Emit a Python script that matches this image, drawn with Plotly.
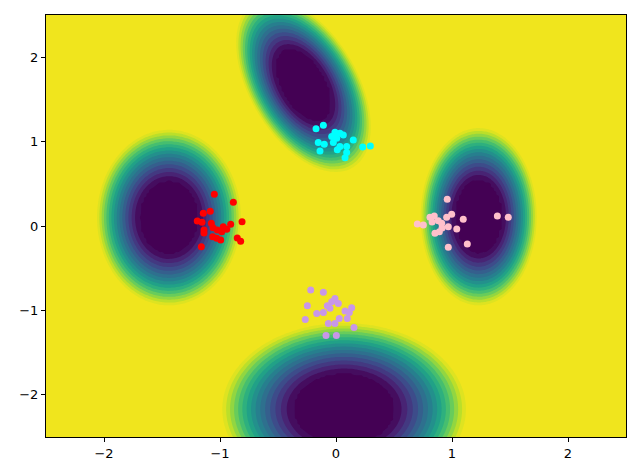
"""
4개 가우시안 우물(contour) + 군집 산점도
"""
import numpy as np
import plotly.graph_objects as go

# 우물 파라미터 (중심, 표준편차, 상관계수) - 바깥 노란 경계가 r=1
WELL_CX = [-1.44, -0.28, 1.23, 0.07]
WELL_CY = [0.10, 1.67, 0.11, -2.17]
WELL_SX = [0.62, 0.58, 0.50, 1.05]
WELL_SY = [1.04, 1.03, 1.05, 1.02]
WELL_RHO = [0.0, -0.48, 0.0, 0.0]

# 군집 점들
RED_X = [-1.049, -0.885, -1.144, -1.084, -1.196, -1.155, -1.075, -0.810, -0.908, -0.972,
         -0.942, -1.023, -0.985, -1.138, -1.138, -1.063, -1.028, -0.994, -0.851, -0.822,
         -1.161, -1.06]
RED_Y = [0.376, 0.281, 0.151, 0.174, 0.059, 0.044, 0.032, 0.051, 0.020, -0.008,
         -0.039, -0.047, -0.068, -0.047, -0.083, -0.127, -0.146, -0.166, -0.142, -0.181,
         -0.246, -0.02]

CYAN_X = [-0.172, -0.109, -0.009, 0.034, 0.063, -0.037, 0.006, -0.153, -0.101, -0.023,
          0.149, 0.092, 0.034, 0.011, -0.138, 0.230, 0.296, 0.078, 0.092]
CYAN_Y = [1.151, 1.195, 1.112, 1.100, 1.079, 1.059, 1.040, 0.988, 0.969, 0.988,
          1.020, 0.941, 0.941, 0.902, 0.890, 0.937, 0.949, 0.810, 0.870]

PINK_X = [0.959, 0.997, 0.847, 0.810, 0.954, 1.097, 0.701, 0.753, 0.882, 0.911,
          0.968, 1.041, 0.853, 0.891, 1.391, 1.485, 1.132, 0.968, 0.914, 0.828]
PINK_Y = [0.317, 0.139, 0.119, 0.103, 0.103, 0.079, 0.024, 0.012, 0.063, 0.032,
          -0.008, -0.036, -0.087, -0.068, 0.119, 0.103, -0.214, -0.253, -0.024, 0.047]

VIOLET_X = [-0.218, -0.109, -0.247, -0.009, -0.037, 0.020, -0.075, -0.052, -0.109, -0.166,
            0.078, 0.135, 0.115, 0.097, 0.028, -0.265, -0.066, -0.009, 0.155, -0.086, 0.003]
VIOLET_Y = [-0.759, -0.786, -0.945, -0.858, -0.898, -0.917, -0.945, -0.976, -1.024, -1.036,
            -1.008, -0.969, -1.024, -1.095, -1.095, -1.107, -1.154, -1.154, -1.202, -1.297, -1.297]

TICKS = [-2, -1, 0, 1, 2]

# viridis, 끝 색만 살짝 어둡게
CMAP = ["#440154", "#482878", "#3e4989", "#31688e", "#26828e",
        "#1f9e89", "#35b779", "#6ece58", "#b5de2b", "#f0e51d"]

# 격자 위 마할라노비스 거리 (가장 가까운 우물)
gx = np.linspace(-2.5, 2.5, 220)
gy = np.linspace(-2.5, 2.5, 220)
X, Y = np.meshgrid(gx, gy)
R = np.full(X.shape, np.inf)
for cx, cy, sx, sy, rho in zip(WELL_CX, WELL_CY, WELL_SX, WELL_SY, WELL_RHO):
    dx = (X - cx) / sx
    dy = (Y - cy) / sy
    r2 = (dx**2 - 2 * rho * dx * dy + dy**2) / (1 - rho**2)
    R = np.minimum(R, np.sqrt(r2))
Z = np.clip(R, 0.42, 1.05) ** 1.6

fig = go.Figure()
fig.add_trace(go.Contour(
    x=gx, y=gy, z=Z,
    colorscale=[[i / (len(CMAP) - 1), c] for i, c in enumerate(CMAP)],
    zmin=0.25, zmax=1.0,
    contours=dict(start=0.25, end=1.0, size=0.05, coloring="fill"),
    line=dict(width=0), showscale=False, hoverinfo="skip",
))

for xs, ys, color in [(RED_X, RED_Y, "#ff0000"), (CYAN_X, CYAN_Y, "#00ffff"),
                      (PINK_X, PINK_Y, "#ffc0cb"), (VIOLET_X, VIOLET_Y, "#c897e8")]:
    fig.add_trace(go.Scatter(
        x=xs, y=ys, mode="markers",
        marker=dict(size=7, color=color, line=dict(width=0)),
        showlegend=False,
    ))

axis = dict(
    range=[-2.5, 2.5], tickvals=TICKS, showgrid=False, zeroline=False,
    showline=True, mirror=True, linecolor="black", linewidth=1,
    ticks="outside", ticklen=4, tickcolor="black",
    tickfont=dict(family="DejaVu Sans", size=13, color="black"),
)
# body 여백 8px 만큼 보정
fig.update_layout(
    width=624, height=460,
    margin=dict(l=38, r=6, t=7, b=31),
    xaxis=axis, yaxis=axis,
    plot_bgcolor="white", paper_bgcolor="white",
)
fig.write_html("out.html")
